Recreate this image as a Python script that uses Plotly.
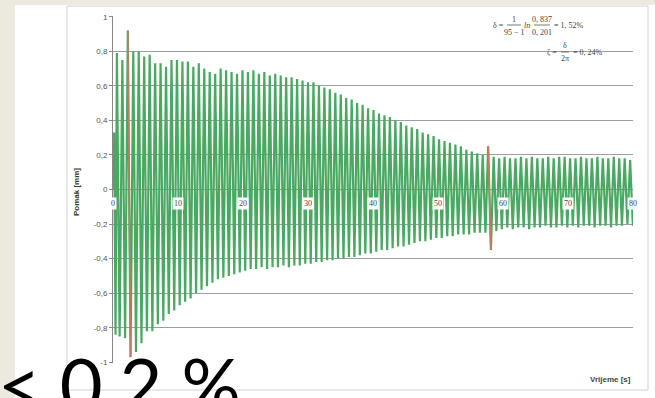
import plotly.graph_objects as go

# ---------------- data ----------------
# start of record
start_t = [0.00, 0.18, 0.39]
start_u = [0.00, 0.33, -0.84]

# positive peaks (time s, displacement mm)
peak_t = [0.60, 1.44, 2.28, 3.12, 3.96, 4.80, 5.64, 6.48, 7.32, 8.16,
          9.00, 9.84, 10.68, 11.52, 12.36, 13.20, 14.04, 14.88, 15.72, 16.56,
          17.40, 18.24, 19.08, 19.92, 20.76, 21.60, 22.44, 23.28, 24.12, 24.96,
          25.80, 26.64, 27.48, 28.32, 29.16, 30.00, 30.84, 31.68, 32.52, 33.36,
          34.20, 35.04, 35.88, 36.72, 37.56, 38.40, 39.24, 40.08, 40.92, 41.76,
          42.60, 43.44, 44.28, 45.12, 45.96, 46.80, 47.64, 48.48, 49.32, 50.16,
          51.00, 51.84, 52.68, 53.52, 54.36, 55.20, 56.04, 56.88, 57.72, 58.56,
          59.40, 60.24, 61.08, 61.92, 62.76, 63.60, 64.44, 65.28, 66.12, 66.96,
          67.80, 68.64, 69.48, 70.32, 71.16, 72.00, 72.84, 73.68, 74.52, 75.36,
          76.20, 77.04, 77.88, 78.72, 79.56]
peak_u = [0.79, 0.75, 0.92, 0.80, 0.80, 0.77, 0.78, 0.73, 0.73, 0.71,
          0.75, 0.75, 0.74, 0.74, 0.71, 0.73, 0.70, 0.68, 0.67, 0.70,
          0.69, 0.68, 0.67, 0.69, 0.68, 0.69, 0.67, 0.68, 0.66, 0.67,
          0.66, 0.65, 0.65, 0.64, 0.63, 0.62, 0.62, 0.60, 0.59, 0.58,
          0.56, 0.55, 0.53, 0.52, 0.50, 0.49, 0.47, 0.46, 0.44, 0.43,
          0.42, 0.40, 0.39, 0.37, 0.36, 0.35, 0.33, 0.32, 0.31, 0.29,
          0.28, 0.27, 0.26, 0.25, 0.23, 0.22, 0.21, 0.20, 0.25, 0.19,
          0.18, 0.19, 0.18, 0.18, 0.19, 0.18, 0.19, 0.18, 0.18, 0.19,
          0.18, 0.19, 0.19, 0.18, 0.18, 0.19, 0.18, 0.18, 0.19, 0.18,
          0.18, 0.19, 0.18, 0.18, 0.17]

# negative troughs
trough_t = [1.02, 1.86, 2.70, 3.54, 4.38, 5.22, 6.06, 6.90, 7.74, 8.58,
            9.42, 10.26, 11.10, 11.94, 12.78, 13.62, 14.46, 15.30, 16.14, 16.98,
            17.82, 18.66, 19.50, 20.34, 21.18, 22.02, 22.86, 23.70, 24.54, 25.38,
            26.22, 27.06, 27.90, 28.74, 29.58, 30.42, 31.26, 32.10, 32.94, 33.78,
            34.62, 35.46, 36.30, 37.14, 37.98, 38.82, 39.66, 40.50, 41.34, 42.18,
            43.02, 43.86, 44.70, 45.54, 46.38, 47.22, 48.06, 48.90, 49.74, 50.58,
            51.42, 52.26, 53.10, 53.94, 54.78, 55.62, 56.46, 57.30, 58.14, 58.98,
            59.82, 60.66, 61.50, 62.34, 63.18, 64.02, 64.86, 65.70, 66.54, 67.38,
            68.22, 69.06, 69.90, 70.74, 71.58, 72.42, 73.26, 74.10, 74.94, 75.78,
            76.62, 77.46, 78.30, 79.14, 79.98]
trough_u = [-0.85, -0.86, -0.97, -0.94, -0.89, -0.82, -0.82, -0.78, -0.76, -0.72,
            -0.70, -0.67, -0.65, -0.63, -0.60, -0.58, -0.56, -0.54, -0.52, -0.51,
            -0.50, -0.49, -0.48, -0.47, -0.46, -0.46, -0.45, -0.46, -0.45, -0.45,
            -0.44, -0.45, -0.44, -0.44, -0.43, -0.43, -0.42, -0.42, -0.41, -0.41,
            -0.40, -0.40, -0.39, -0.39, -0.38, -0.37, -0.37, -0.36, -0.35, -0.35,
            -0.34, -0.33, -0.33, -0.32, -0.31, -0.30, -0.30, -0.29, -0.28, -0.28,
            -0.27, -0.27, -0.26, -0.26, -0.26, -0.25, -0.25, -0.25, -0.35, -0.24,
            -0.23, -0.22, -0.23, -0.22, -0.22, -0.23, -0.22, -0.22, -0.21, -0.22,
            -0.22, -0.21, -0.22, -0.21, -0.22, -0.21, -0.21, -0.22, -0.21, -0.21,
            -0.22, -0.21, -0.21, -0.20, -0.21]

# cycles marked for the damping estimate (indices into peak/trough lists)
marked_cycles = [2, 68]

y_tickvals = [1, 0.8, 0.6, 0.4, 0.2, 0, -0.2, -0.4, -0.6, -0.8, -1]
y_ticktext = ["1", "0,8", "0,6", "0,4", "0,2", "0", "-0,2", "-0,4", "-0,6", "-0,8", "-1"]
x_tickvals = [0, 10, 20, 30, 40, 50, 60, 70, 80]
x_ticktext = ["0", "10", "20", "30", "40", "50", "60", "70", "80"]

# ---------------- build signal ----------------
sig_t = list(start_t)
sig_u = list(start_u)
for i in range(len(peak_t)):
    sig_t += [peak_t[i], trough_t[i]]
    sig_u += [peak_u[i], trough_u[i]]

# ---------------- layout geometry ----------------
W_FIG, H_FIG = 655, 398
L, T, R, B = 113, 16, 22, 35
PW = W_FIG - L - R
PH = H_FIG - T - B
BEIGE = "#ece9de"


def px(X):
    return (X - L) / PW


def py(Y):
    return (T + PH - Y) / PH


GREEN = "#4aa862"
RED = "#c9795c"

fig = go.Figure()
fig.add_trace(go.Scatter(x=sig_t, y=sig_u, mode="lines",
                         line=dict(color=GREEN, width=2.2), hoverinfo="skip",
                         showlegend=False))
for c in marked_cycles:
    fig.add_trace(go.Scatter(x=[peak_t[c], trough_t[c]], y=[peak_u[c], trough_u[c]],
                             mode="lines", line=dict(color=RED, width=1.5),
                             hoverinfo="skip", showlegend=False))

shapes = [
    # white slide area
    dict(type="rect", xref="paper", yref="paper", x0=px(15), x1=px(660),
         y0=py(5), y1=py(400), fillcolor="white", line=dict(width=0), layer="below"),
    # chart frame
    dict(type="rect", xref="paper", yref="paper", x0=px(67), x1=px(648),
         y0=py(6), y1=py(390), fillcolor="rgba(0,0,0,0)",
         line=dict(color="#d2d2d2", width=1), layer="below"),
    # fraction bars
    dict(type="line", xref="paper", yref="paper", x0=px(507), x1=px(521),
         y0=py(25), y1=py(25), line=dict(color="#555", width=0.8)),
    dict(type="line", xref="paper", yref="paper", x0=px(534), x1=px(550),
         y0=py(25), y1=py(25), line=dict(color="#555", width=0.8)),
    dict(type="line", xref="paper", yref="paper", x0=px(561), x1=px(569),
         y0=py(52), y1=py(52), line=dict(color="#555", width=0.8)),
]

ann = []
for v, s in zip(x_tickvals, x_ticktext):
    ann.append(dict(x=v, y=0, xref="x", yref="y", text=s, showarrow=False,
                    yanchor="top", yshift=-7, bgcolor="white",
                    font=dict(family="Liberation Serif", size=8, color="#444"),
                    borderpad=1))

FF = "Liberation Serif"


def t_ann(X, Y, text, anchor="center", size=8, italic=False):
    if italic:
        text = "<i>" + text + "</i>"
    return dict(x=px(X), y=py(Y), xref="paper", yref="paper", text=text,
                showarrow=False, xanchor=anchor, yanchor="middle",
                font=dict(family=FF, size=size, color="#444"))


ann += [
    t_ann(506, 25, "δ =", anchor="right"),
    t_ann(514, 19, "1"),
    t_ann(514, 32, "95 − 1"),
    t_ann(527, 25, "ln", italic=True),
    t_ann(542, 19, "0, 837"),
    t_ann(542, 32, "0, 201"),
    t_ann(552, 25, "= 1, 52%", anchor="left"),
    t_ann(559, 52, "ζ =", anchor="right"),
    t_ann(565, 46, "δ"),
    t_ann(565, 58, "2π"),
    t_ann(571, 52, "= 0, 24%", anchor="left"),
    dict(x=px(76), y=py(192), xref="paper", yref="paper", text="<b>Pomak [mm]</b>",
         showarrow=False, textangle=-90, xanchor="center", yanchor="middle",
         font=dict(family="Liberation Sans", size=8, color="#333")),
    dict(x=px(633), y=py(379), xref="paper", yref="paper", text="<b>Vrijeme [s]</b>",
         showarrow=False, xanchor="right", yanchor="middle",
         font=dict(family="Liberation Sans", size=8, color="#444")),
    dict(x=px(-4), y=py(337), xref="paper", yref="paper", text="< 0,2 %",
         showarrow=False, xanchor="left", yanchor="top",
         font=dict(family="Lato", size=74, color="black")),
]

fig.update_layout(
    width=W_FIG, height=H_FIG,
    margin=dict(l=L, r=R, t=T, b=B),
    paper_bgcolor=BEIGE, plot_bgcolor="white",
    shapes=shapes, annotations=ann, showlegend=False,
    xaxis=dict(range=[0, 80], showgrid=False, zeroline=False, showline=False,
               showticklabels=False, ticks=""),
    yaxis=dict(range=[-1.004, 1.004], tickvals=y_tickvals, ticktext=y_ticktext,
               showgrid=True, gridcolor="#9e9e9e", gridwidth=1,
               zeroline=True, zerolinecolor="#999", zerolinewidth=1,
               showline=True, linecolor="#888", linewidth=1,
               ticks="outside", ticklen=3, tickcolor="#888",
               tickfont=dict(family="Liberation Sans", size=8, color="#555")),
)

fig.write_html(
    "out.html",
    config={"displayModeBar": False},
    post_script="document.body.style.margin='0';document.body.style.background='%s';" % BEIGE,
)
